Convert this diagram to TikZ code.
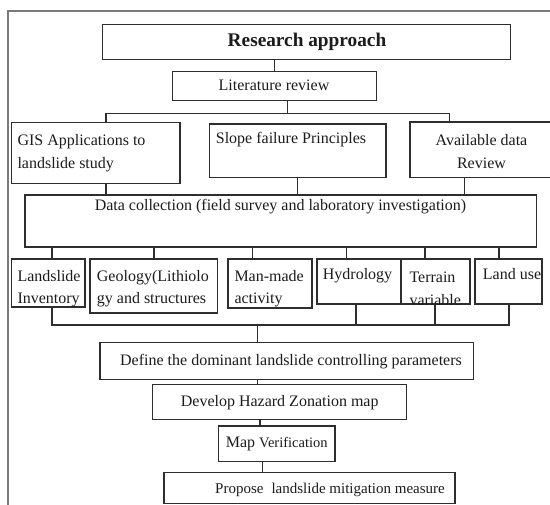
\documentclass[tikz,border=0pt]{standalone}
\usepackage{fontspec}
\setmainfont{Liberation Serif}
\usetikzlibrary{calc}
\definecolor{edge}{HTML}{2E2E2E}
\definecolor{framegray}{HTML}{7A7A7A}
\definecolor{ink}{HTML}{1C1C1C}
\tikzstyle{box} = [draw=edge, line width=1.3pt, rectangle, inner sep=0pt]
\tikzstyle{link} = [draw=edge, line width=1.1pt]
\tikzstyle{txt} = [inner sep=0pt, text=ink, text height=0.7em, text depth=0.2em, font=\fontsize{16}{22.5}\selectfont]
\tikzstyle{lines} = [inner sep=0pt, text=ink, font=\fontsize{16}{22.5}\selectfont]

\begin{document}
\begin{tikzpicture}[x=1pt, y=-1pt]
        \useasboundingbox (0,0) rectangle (550,505);
        \fill[white] (0,0) rectangle (550,505);
        \clip (0,0) rectangle (550,505);
        \draw[framegray, line width=2pt] (8,520) |- (560,10.7);

        % boxes
        \node at (306.7,41.8) [box, minimum width=408pt, minimum height=35pt] (ra) {};
        \node at (274.7,86.2) [box, minimum width=204pt, minimum height=29pt] (lr) {};
        \node at (95.85,153) [box, minimum width=168.3pt, minimum height=60.6pt] (gis) {};
        \node at (297.65,150.85) [box, minimum width=176.7pt, minimum height=53.7pt] (sf) {};
        \node at (481.5,149.85) [box, minimum width=143pt, minimum height=55.7pt] (av) {};
        \node at (280.85,221) [box, minimum width=511.7pt, minimum height=52pt] (dc) {};
        \node at (48.35,283) [box, minimum width=73.3pt, minimum height=48pt] (li) {};
        \node at (153.75,286) [box, minimum width=127.5pt, minimum height=54pt] (geo) {};
        \node at (270,283.5) [box, minimum width=84pt, minimum height=49pt] (mm) {};
        \node at (359,281.5) [box, minimum width=84pt, minimum height=45pt] (hy) {};
        \node at (435.5,281.5) [box, minimum width=69pt, minimum height=45pt] (te) {};
        \node at (508.5,281.5) [box, minimum width=67pt, minimum height=45pt] (lu) {};
        \node at (286.65,361) [box, minimum width=373.3pt, minimum height=36.6pt] (def) {};
        \node at (279.7,401.8) [box, minimum width=254pt, minimum height=35pt] (dev) {};
        \node at (276.65,443.85) [box, minimum width=116.7pt, minimum height=35.7pt] (mv) {};
        \node at (309.5,488) [box, minimum width=291pt, minimum height=30.6pt] (pr) {};

        % texts
        \node at (307,44.4) [txt, font=\fontsize{19.3}{23}\selectfont\bfseries] (raT) {Research approach};
        \node at (274,88.5) [txt] (lrT) {Literature review};
        \node at (17.3,153.3) [lines, anchor=west, align=left] (gisT) {GIS Applications to\\landslide study};
        \node at (215.7,141.5) [txt, anchor=west] (sfT) {Slope failure Principles};
        \node at (481.5,151.5) [lines, align=center] (avT) {Available data\\Review};
        \node at (280.5,208.5) [txt] (dcT) {Data collection (field survey and laboratory investigation)};
        \node at (17.3,288.8) [lines, anchor=west, align=left] (liT) {Landslide\\Inventory};
        \node at (96.7,288.8) [lines, anchor=west, align=left] (geoT) {Geology(Lithiolo\\gy and structures};
        \node at (234.3,288.8) [lines, anchor=west, align=left] (mmT) {Man-made\\activity};
        \node at (322.7,277.5) [txt, anchor=west] (hyT) {Hydrology};
        \begin{scope}
            \clip (te.south west) rectangle (te.north east);
            \node at (409.3,288.7) [lines, anchor=west, align=left] (teT) {Terrain\\variable};
        \end{scope}
        \node at (482.7,277.5) [txt, anchor=west] (luT) {Land use};
        \node at (291,363.2) [txt] (defT) {Define the dominant landslide controlling parameters};
        \node at (279.7,404.2) [txt] (devT) {Develop Hazard Zonation map};
        \node at (276.7,445.5) [txt] (mvT) {Map {\fontsize{14.5}{17}\selectfont Verification}};
        \node at (215,491.5) [txt, anchor=west, font=\fontsize{15}{18}\selectfont] (prT) {Propose\hspace{8pt}landslide mitigation measure};

        % connectors
        \coordinate (topbus) at (0,113.3);
        \coordinate (lowbus) at (0,325);
        \draw[link] (274.7,0 |- ra.south) -- (274.7,0 |- lr.north);
        \draw[link] (287.3,0 |- lr.south) -- (287.3,0 |- topbus);
        \draw[link] (106,0 |- gis.north) |- (449.3,0 |- topbus) -- (449.3,0 |- av.north);
        \foreach \x/\n in {106/gis, 297.3/sf, 464.3/av}
            \draw[link] (\x,0 |- \n.south) -- (\x,0 |- dc.north);
        \foreach \x/\n in {52/li, 154/geo, 252.5/mm, 346.5/hy, 425/te, 499/lu}
            \draw[link] (\x,0 |- dc.south) -- (\x,0 |- \n.north);
        \draw[link] (52,0 |- li.south) |- (509,0 |- lowbus) -- (509,0 |- lu.south);
        \foreach \x/\n in {356/hy, 435/te}
            \draw[link] (\x,0 |- \n.south) -- (\x,0 |- lowbus);
        \draw[link] (257.7,0 |- lowbus) -- (257.7,0 |- def.north);
        \draw[link] (257.7,0 |- def.south) -- (257.7,0 |- dev.north);
        \draw[link] (260,0 |- dev.south) -- (260,0 |- mv.north);
        \draw[link] (262.7,0 |- mv.south) -- (262.7,0 |- pr.north);

    \end{tikzpicture}
\end{document}
